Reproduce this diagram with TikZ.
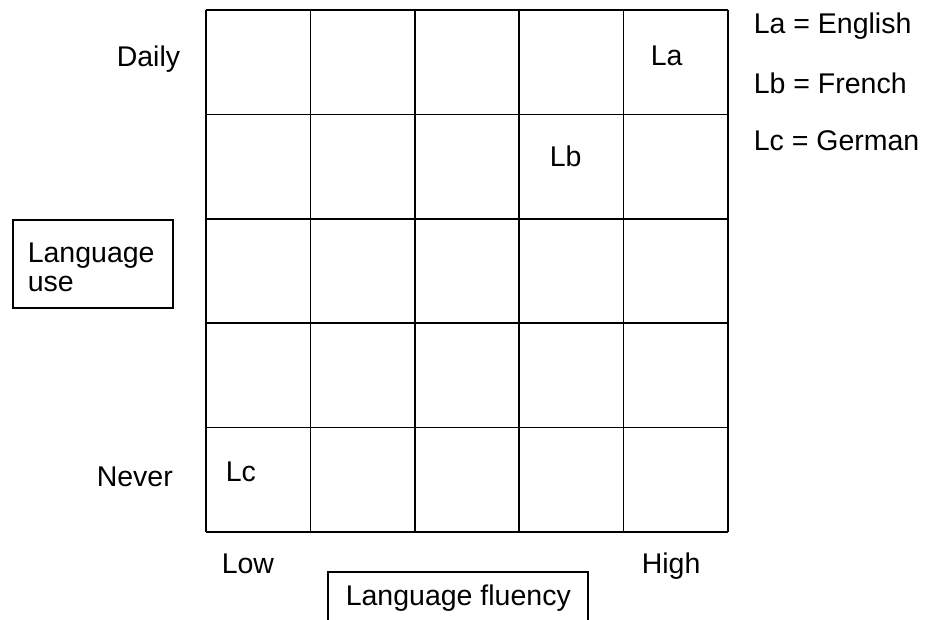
\documentclass[tikz,border=0pt]{standalone}
\usepackage{fontspec}
\setmainfont{Liberation Sans}
\usepackage{tikz}

\tikzset{
  txt/.style={anchor=base west, inner sep=0pt, font=\fontsize{28.5}{34}\selectfont},
  framebox/.style={draw, line width=1.6pt, inner sep=0pt, anchor=north west},
}

\begin{document}
\begin{tikzpicture}[x=1pt, y=-1pt, line width=1.6pt]
  \useasboundingbox (0, 0) rectangle (928, 619);
  % grid of 5 x 5 cells
  \coordinate (gridnw) at (206, 10);
  \coordinate (gridse) at (728, 532);
  \foreach \i in {0,...,5} {
    \draw (206+104.4*\i, 10) -- (206+104.4*\i, 532);
    \draw (206, 10+104.4*\i) -- (728, 10+104.4*\i);
  }
  % axis labels
  \node[txt] (daily) at (116, 66.7) {Daily};
  \node[txt] (never) at (96, 486.7) {Never};
  \node[txt] (low) at (221, 573) {Low};
  \node[txt] (high) at (641, 573) {High};
  % languages in the grid
  \node[txt] (la) at (650, 65) {La};
  \node[txt] (lb) at (549, 166.7) {Lb};
  \node[txt] (lc) at (225, 481.7) {Lc};
  % legend
  \node[txt] (keya) at (753, 33.3) {La = English};
  \node[txt] (keyb) at (753, 93.3) {Lb = French};
  \node[txt] (keyc) at (753, 150) {Lc = German};
  % boxed titles
  \node[framebox, minimum width=160pt, minimum height=88pt] (usebox) at (12, 219) {};
  \node[txt] (usetop) at (27, 262.7) {Language};
  \node[txt] (usebot) at (27, 291.7) {use};
  \node[framebox, minimum width=260pt, minimum height=70pt] (fluencybox) at (327, 571) {};
  \node[txt] (fluency) at (345, 605) {Language fluency};
\end{tikzpicture}
\end{document}
